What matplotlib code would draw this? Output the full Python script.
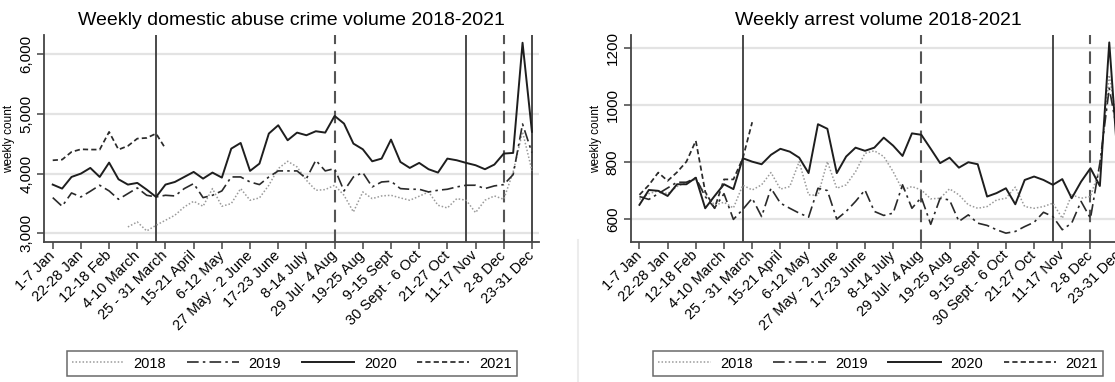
import matplotlib
matplotlib.use('Agg')
import matplotlib.pyplot as plt
from matplotlib.lines import Line2D
import numpy as np

plt.rcParams['font.family'] = ['Liberation Sans', 'DejaVu Sans']

nan = np.nan
weeks = list(range(1, 53))
tick_weeks = list(range(1, 53, 3))
tick_labels = ["1-7 Jan", "22-28 Jan", "12-18 Feb", "4-10 March", "25 - 31 March",
               "15-21 April", "6-12 May", "27 May - 2 June", "17-23 June", "8-14 July",
               "29 Jul- 4 Aug", "19-25 Aug", "9-15 Sept", "30 Sept - 6 Oct", "21-27 Oct",
               "11-17 Nov", "2-8 Dec", "23-31 Dec"]
solid_vlines = [12, 45, 52]
dashed_vlines = [31, 49]
years = ["2018", "2019", "2020", "2021"]

# Weekly domestic abuse crime volume
crime_2018 = [nan, nan, nan, nan, nan, nan, nan, nan,
              3107, 3191, 3040, 3135, 3219, 3303, 3442, 3537, 3453, 3749, 3453, 3498,
              3749, 3554, 3593, 3805, 4084, 4206, 4112, 3888, 3721, 3732, 3805, 3637,
              3358, 3693, 3581, 3626, 3637, 3593, 3554, 3621, 3693, 3470, 3425, 3581,
              3554, 3347, 3554, 3626, 3570, 4028, 4700, 4050]
crime_2019 = [3598, 3453, 3676, 3609, 3704, 3805, 3710, 3570, 3665, 3760, 3637, 3609,
              3637, 3626, 3749, 3833, 3598, 3637, 3710, 3944, 3944, 3860, 3816, 3944,
              4045, 4045, 4045, 3916, 4223, 4045, 4084, 3710, 3944, 4017, 3777, 3860,
              3872, 3749, 3738, 3738, 3693, 3721, 3738, 3777, 3805, 3805, 3749, 3794,
              3816, 3983, 4830, 4350]
crime_2020 = [3816, 3749, 3944, 4000, 4095, 3944, 4184, 3905, 3816, 3844, 3732, 3609,
              3816, 3860, 3944, 4028, 3916, 4017, 3933, 4418, 4513, 4045, 4167, 4670,
              4809, 4558, 4686, 4642, 4709, 4686, 4965, 4837, 4502, 4407, 4206, 4251,
              4569, 4195, 4095, 4179, 4073, 4017, 4251, 4223, 4179, 4140, 4073, 4151,
              4335, 4346, 6190, 4700]
crime_2021 = [4223, 4234, 4363, 4407, 4402, 4402, 4698, 4402, 4463, 4586, 4597, 4670, 4418]

# Weekly arrest volume
arrest_2018 = [670, 690, 700, 690, 715, 730, 740, 690, 650, 660, 640, 720,
               703, 721, 764, 706, 715, 802, 686, 684, 802, 709, 721, 767, 831,
               840, 820, 767, 703, 715, 703, 672, 674, 707, 686, 651, 639, 645,
               668, 674, 713, 645, 639, 645, 657, 604, 686, 674, 680, 779, 1105, 900]
arrest_2019 = [680, 670, 690, 710, 730, 730, 745, 680, 640, 690, 600, 635,
               674, 610, 709, 657, 639, 622, 608, 709, 701, 601, 628, 663, 703,
               628, 614, 622, 721, 639, 677, 583, 674, 668, 593, 616, 587, 579,
               564, 552, 558, 575, 590, 625, 610, 564, 587, 663, 604, 797, 1059, 880]
arrest_2020 = [651, 703, 700, 682, 723, 723, 746, 639, 682, 723, 706, 814,
               802, 793, 826, 847, 837, 816, 762, 933, 917, 762, 820, 851, 840,
               851, 886, 858, 822, 901, 896, 847, 797, 816, 781, 800, 793,
               680, 692, 709, 653, 738, 750, 738, 721, 741, 674, 732, 779, 717, 1219, 760]
arrest_2021 = [686, 720, 764, 735, 765, 802, 875, 697, 639, 740, 740, 814, 940]

crime_ticks = [3000, 4000, 5000, 6000]
crime_ticklabels = ["3,000", "4,000", "5,000", "6,000"]
arrest_ticks = [600, 800, 1000, 1200]
arrest_ticklabels = ["600", "800", "1000", "1200"]

styles = {
    "2018": dict(color="#9a9a9a", lw=1.1, dashes=(1.0, 1.3)),
    "2019": dict(color="#2a2a2a", lw=1.2, dashes=(7, 2.5, 1.5, 2.5)),
    "2020": dict(color="#1e1e1e", lw=1.4),
    "2021": dict(color="#2a2a2a", lw=1.25, dashes=(3, 1.8)),
}

fig = plt.figure(figsize=(11.15, 3.82), dpi=100)
fig.patch.set_facecolor("white")

# faint panel separator visible in the reference
fig.add_artist(Line2D([578 / 1115, 578 / 1115], [0.0, 1 - 240 / 382],
                      color="#ececec", lw=1.5, transform=fig.transFigure))


def panel(rect, title, series, ylim, yticks, yticklabels):
    ax = fig.add_axes(rect)
    for yr, vals in zip(years, series):
        ax.plot(weeks[:len(vals)], vals, label=yr, zorder=3, **styles[yr])
    for w in solid_vlines:
        ax.axvline(w, color="#3a3a3a", lw=1.3, zorder=2)
    for w in dashed_vlines:
        ax.axvline(w, color="#555555", lw=1.5, dashes=(6, 3.5), zorder=2)
    ax.set_xlim(0.1, 52.75)
    ax.set_ylim(*ylim)
    ax.set_yticks(yticks)
    ax.set_yticklabels(yticklabels, rotation=90, va="center", fontsize=11)
    ax.set_xticks(tick_weeks)
    ax.set_xticklabels(tick_labels, rotation=45, ha="right", va="center",
                       rotation_mode="anchor", fontsize=10.5)
    ax.grid(axis="y", color="#e3e3e3", lw=1.6, zorder=0)
    ax.set_axisbelow(True)
    for s in ["top", "right"]:
        ax.spines[s].set_visible(False)
    for s in ["left", "bottom"]:
        ax.spines[s].set_color("#444444")
        ax.spines[s].set_linewidth(1.3)
    ax.tick_params(axis="both", direction="out", length=5, width=1.1, color="#444444",
                   pad=3)
    ax.set_ylabel("weekly count", fontsize=8.5, labelpad=3)
    ax.set_title(title, fontsize=14, pad=7)
    leg = ax.legend(loc="center", bbox_to_anchor=(0.5, -0.585), ncol=4, fontsize=10.5,
                    handlelength=3.6, columnspacing=1.4, handletextpad=0.65,
                    frameon=True, fancybox=False, borderpad=0.35)
    leg.get_frame().set_edgecolor("#444444")
    leg.get_frame().set_linewidth(1.1)
    return ax


panel([0.0397, 0.3657, 0.4437, 0.5427], "Weekly domestic abuse crime volume 2018-2021",
      [crime_2018, crime_2019, crime_2020, crime_2021], (2850, 6320),
      crime_ticks, crime_ticklabels)
panel([0.5659, 0.3657, 0.4437, 0.5427], "Weekly arrest volume 2018-2021",
      [arrest_2018, arrest_2019, arrest_2020, arrest_2021], (520, 1245),
      arrest_ticks, arrest_ticklabels)

fig.savefig("out.png", dpi=100, facecolor="white")
